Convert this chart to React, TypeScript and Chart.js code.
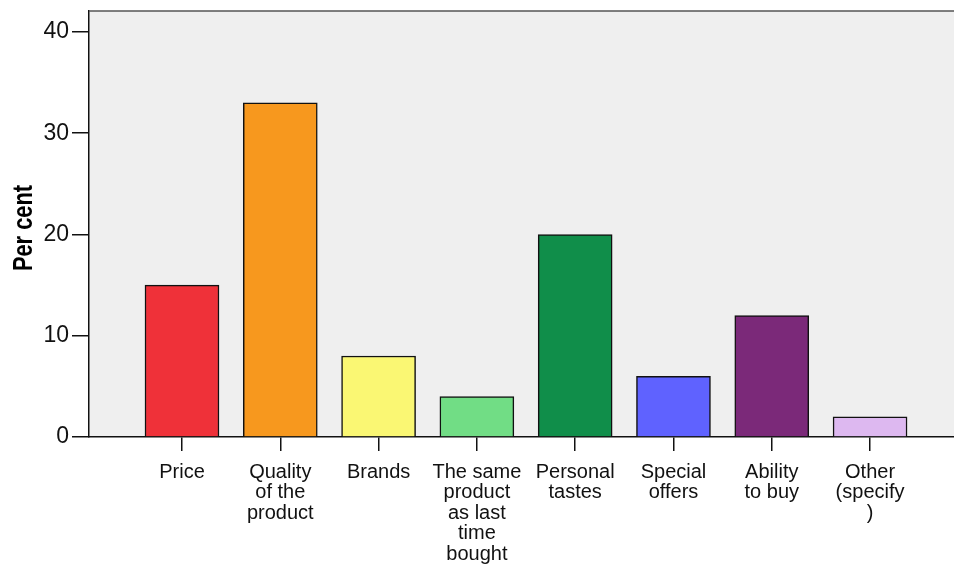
import React, { useEffect, useRef } from "react";
import { Chart, registerables } from "chart.js";

Chart.register(...registerables);

const categories: string[][] = [
  ["Price"],
  ["Quality", "of the", "product"],
  ["Brands"],
  ["The same", "product", "as last", "time", "bought"],
  ["Personal", "tastes"],
  ["Special", "offers"],
  ["Ability", "to buy"],
  ["Other", "(specify", ")"],
];

const percents: number[] = [15, 33, 8, 4, 20, 6, 12, 2];

const barColors: string[] = [
  "#EF3139",
  "#F7981E",
  "#FAF773",
  "#71DD85",
  "#108E4A",
  "#5F62FF",
  "#7B2979",
  "#DDB8F0",
];

const yTicks: number[] = [0, 10, 20, 30, 40];
const yTitle = "Per cent";

const FONT = "'Liberation Sans', Arial, sans-serif";

const frame = {
  id: "frame",
  beforeDraw(chart: any) {
    const { ctx, chartArea } = chart;
    ctx.save();
    ctx.fillStyle = "#EFEFEF";
    ctx.fillRect(chartArea.left, chartArea.top, chartArea.right - chartArea.left, chartArea.bottom - chartArea.top);
    ctx.restore();
  },
  afterDraw(chart: any) {
    const { ctx, chartArea } = chart;
    ctx.save();
    ctx.strokeStyle = "#555555";
    ctx.lineWidth = 1.5;
    ctx.beginPath();
    ctx.moveTo(chartArea.left, chartArea.top);
    ctx.lineTo(chartArea.right, chartArea.top);
    ctx.stroke();

    // condensed bold axis title
    ctx.translate(32, (chartArea.top + chartArea.bottom) / 2 + 4);
    ctx.rotate(-Math.PI / 2);
    ctx.scale(0.78, 1);
    ctx.font = `bold 28px ${FONT}`;
    ctx.fillStyle = "#000000";
    ctx.textAlign = "center";
    ctx.textBaseline = "alphabetic";
    ctx.fillText(yTitle, 0, 0);
    ctx.restore();
  },
};

export default function App() {
  const canvasRef = useRef<HTMLCanvasElement | null>(null);

  useEffect(() => {
    if (!canvasRef.current) return;
    const chart = new Chart(canvasRef.current, {
      type: "bar",
      data: {
        datasets: [
          {
            data: percents.map((v, i) => ({ x: i, y: v })),
            backgroundColor: barColors,
            borderColor: "#111111",
            borderWidth: 1.5,
            barThickness: 74,
          },
        ],
      },
      plugins: [frame],
      options: {
        animation: false,
        responsive: false,
        maintainAspectRatio: false,
        layout: { autoPadding: false, padding: { top: 11, right: 0, left: 0, bottom: 0 } },
        plugins: {
          legend: { display: false },
          tooltip: { enabled: false },
          title: { display: false },
        },
        scales: {
          x: {
            type: "linear",
            offset: false,
            min: -0.946,
            max: 7.854,
            afterBuildTicks(scale: any) {
              scale.ticks = categories.map((_, i) => ({ value: i }));
            },
            afterFit(scale: any) {
              scale.height = 127;
            },
            grid: {
              offset: false,
              drawOnChartArea: false,
              drawTicks: true,
              tickLength: 14,
              color: "#111111",
              lineWidth: 1.5,
            },
            border: { display: true, color: "#111111", width: 1.5 },
            ticks: {
              autoSkip: false,
              maxRotation: 0,
              minRotation: 0,
              padding: 11,
              color: "#111111",
              font: { family: FONT, size: 20, lineHeight: 1.025 },
              callback: (v: any) => {
                const i = Math.round(Number(v));
                return categories[i] ?? "";
              },
            },
          },
          y: {
            min: 0,
            max: 42.07,
            afterBuildTicks(scale: any) {
              scale.ticks = yTicks.map((v) => ({ value: v }));
            },
            afterFit(scale: any) {
              scale.width = 89;
            },
            grid: {
              drawOnChartArea: false,
              drawTicks: true,
              tickLength: 17,
              color: "#111111",
              lineWidth: 1.5,
            },
            border: { display: true, color: "#111111", width: 1.5 },
            ticks: {
              padding: 3,
              color: "#111111",
              font: { family: FONT, size: 23, lineHeight: 0.6 },
            },
          },
        },
      } as any,
    });
    return () => chart.destroy();
  }, []);

  return (
    <div style={{ position: "fixed", left: 0, top: 0, width: 954, height: 564, background: "#ffffff" }}>
      <canvas ref={canvasRef} width={954} height={564} style={{ display: "block" }} />
    </div>
  );
}
